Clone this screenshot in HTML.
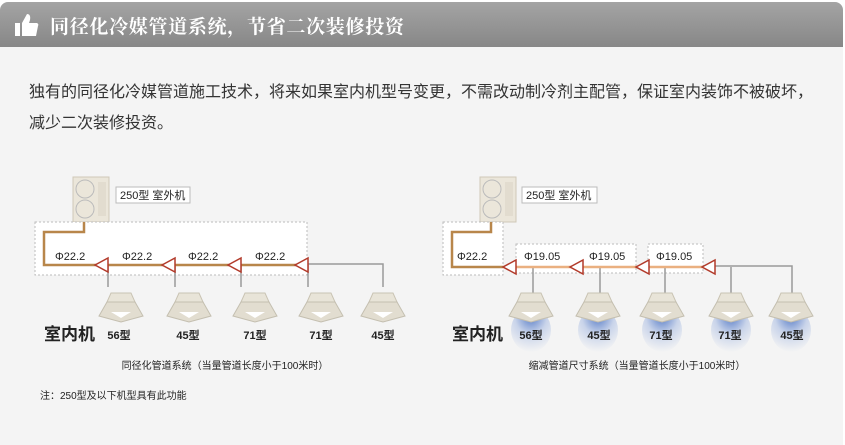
<!DOCTYPE html>
<html><head><meta charset="utf-8"><style>
body{margin:0;width:845px;height:445px;background:#fff;overflow:hidden;font-family:"Liberation Sans","Noto Sans CJK SC",sans-serif}
.hd{position:absolute;left:0;top:2px;width:843px;height:45px;border-radius:8px 8px 0 0;background:linear-gradient(#a4a4a4,#878787);}
.hd span{position:absolute;left:50px;top:10px;color:#fff;font-size:19px;font-family:"Liberation Serif","Noto Serif CJK SC",serif;font-weight:bold;letter-spacing:0.7px}
.bd{position:absolute;left:0;top:47px;width:843px;height:398px;background:#f4f4f4}
.p{position:absolute;left:29px;top:77px;font-size:16px;color:#333;line-height:31px;width:810px}
</style></head><body>
<div class="hd"><svg width="30" height="30" style="position:absolute;left:12px;top:8px"><rect x="3" y="13" width="5" height="13" fill="#fff"/><path d="M10 13 L15 4 Q19 4 18 10 L17 13 L25 13 Q27 14 26 16 L24 26 L10 26Z" fill="#fff"/></svg><span>同径化冷媒管道系统，节省二次装修投资</span></div>
<div class="bd"></div>
<div class="p">独有的同径化冷媒管道施工技术，将来如果室内机型号变更，不需改动制冷剂主配管，保证室内装饰不被破坏，<br>减少二次装修投资。</div>
<svg width="845" height="445" style="position:absolute;left:0;top:0" font-family="Liberation Sans,Noto Sans CJK SC,sans-serif">
<defs>
<g id="ou"><rect x="0" y="0" width="36" height="45" fill="#ebe6da" stroke="#cfc8b8"/><circle cx="12" cy="12" r="9" fill="none" stroke="#bbb"/><circle cx="12" cy="32" r="9" fill="none" stroke="#bbb"/><rect x="25" y="5" width="8" height="34" fill="#e2dccf"/></g>
<g id="iu"><polygon points="-10,-15 10,-15 14,-6 -14,-6" fill="#e8e4d8" stroke="#c9c3b3"/><polygon points="-22,8 -14,-6 14,-6 22,8 0,14" fill="#e2ddd0" stroke="#c4bfb0"/><polygon points="-10,4 10,4 0,10" fill="#fff"/></g>
<g id="tr"><polygon points="0,0 13,-7 13,7" fill="#fff" stroke="#b23a2a" stroke-width="1.5"/></g>
</defs>
<g font-size="11" fill="#222">
<use href="#ou" x="73" y="177"/>
<rect x="116" y="187" width="74" height="16" fill="#fff" stroke="#bbb"/><text x="120" y="199">250型 室外机</text>
<rect x="35" y="222" width="272" height="53" fill="#fff" stroke="#bbb" stroke-dasharray="2,2"/>
<g stroke="#999" fill="none" stroke-width="1.5"><path d="M108 265 V287 M175 265V287 M241 265V287 M308 265V287 M308 264 H383 V287"/></g>
<path d="M84 222 V232 H44 V265 H305" fill="none" stroke="#b8864a" stroke-width="2.5"/>
<use href="#tr" x="95" y="265"/><use href="#tr" x="162" y="265"/><use href="#tr" x="228" y="265"/><use href="#tr" x="295" y="265"/>
<text x="55" y="260">Φ22.2</text><text x="122" y="260">Φ22.2</text><text x="188" y="260">Φ22.2</text><text x="255" y="260">Φ22.2</text>
<use href="#iu" x="121" y="308"/><use href="#iu" x="189" y="308"/><use href="#iu" x="255" y="308"/><use href="#iu" x="321" y="308"/><use href="#iu" x="383" y="308"/>
<text x="44" y="340" font-size="17" font-weight="bold">室内机</text>
<g font-weight="bold" text-anchor="middle"><text x="119" y="339">56型</text><text x="188" y="339">45型</text><text x="255" y="339">71型</text><text x="321" y="339">71型</text><text x="383" y="339">45型</text></g>
<text x="225" y="369" font-size="10" text-anchor="middle">同径化管道系统（当量管道长度小于100米时）</text>
<text x="40" y="399" font-size="10">注：250型及以下机型具有此功能</text>
<use href="#ou" x="480" y="177"/>
<rect x="522" y="187" width="75" height="16" fill="#fff" stroke="#bbb"/><text x="526" y="199">250型 室外机</text>
<rect x="443" y="222" width="60" height="53" fill="#fff" stroke="#bbb" stroke-dasharray="2,2"/>
<rect x="516" y="244" width="120" height="29" fill="#fff" stroke="#bbb" stroke-dasharray="2,2"/>
<rect x="648" y="244" width="55" height="29" fill="#fff" stroke="#bbb" stroke-dasharray="2,2"/>
<g stroke="#999" fill="none" stroke-width="1.5"><path d="M533 267V293 M600 267V293 M665 267V293 M731 267V293 M703 266 H792 V293"/></g>
<path d="M491 222 V232 H452 V267 H503" fill="none" stroke="#b8864a" stroke-width="2.5"/>
<path d="M503 267 H703" stroke="#eab080" stroke-width="2.5"/>
<use href="#tr" x="503" y="267"/><use href="#tr" x="570" y="267"/><use href="#tr" x="636" y="267"/><use href="#tr" x="702" y="267"/>
<text x="457" y="260">Φ22.2</text><text x="524" y="260">Φ19.05</text><text x="589" y="260">Φ19.05</text><text x="656" y="260">Φ19.05</text>
<defs><radialGradient id="bl" cx="0.5" cy="0.2" r="0.8"><stop offset="0" stop-color="#5b7fc8"/><stop offset="0.5" stop-color="#c9d4ea"/><stop offset="1" stop-color="#f4f4f4"/></radialGradient></defs>
<g fill="url(#bl)"><ellipse cx="531" cy="330" rx="20" ry="22"/><ellipse cx="598" cy="330" rx="20" ry="22"/><ellipse cx="662" cy="330" rx="20" ry="22"/><ellipse cx="731" cy="330" rx="20" ry="22"/><ellipse cx="791" cy="330" rx="20" ry="22"/></g>
<use href="#iu" x="531" y="308"/><use href="#iu" x="598" y="308"/><use href="#iu" x="662" y="308"/><use href="#iu" x="731" y="308"/><use href="#iu" x="791" y="308"/>
<text x="452" y="340" font-size="17" font-weight="bold">室内机</text>
<g font-weight="bold" text-anchor="middle"><text x="531" y="339">56型</text><text x="599" y="339">45型</text><text x="661" y="339">71型</text><text x="730" y="339">71型</text><text x="792" y="339">45型</text></g>
<text x="637" y="369" font-size="10" text-anchor="middle">缩减管道尺寸系统（当量管道长度小于100米时）</text>
</g>
</svg>
</body></html>
